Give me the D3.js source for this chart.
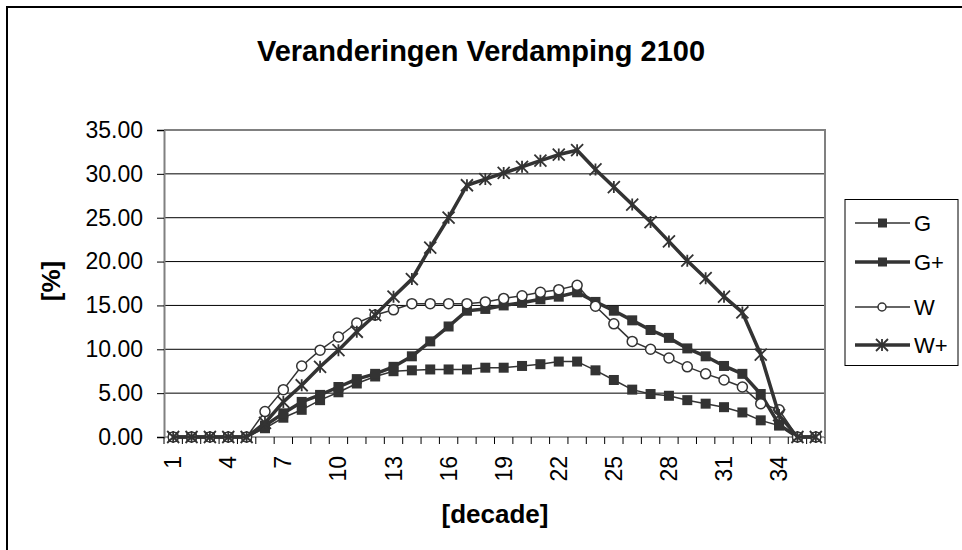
<!DOCTYPE html>
<html><head><meta charset="utf-8">
<script src="https://cdn.jsdelivr.net/npm/d3@7/dist/d3.min.js"></script>
<style>body{margin:0;background:#fff}svg{display:block}</style>
</head><body>
<svg id="chart" width="962" height="550"></svg>
<script>
const categories = [1,2,3,4,5,6,7,8,9,10,11,12,13,14,15,16,17,18,19,20,21,22,23,24,25,26,27,28,29,30,31,32,33,34,35,36];
const tickLabels = [1,4,7,10,13,16,19,22,25,28,31,34];
const yTicks = [0,5,10,15,20,25,30,35];
const seriesNames = ["G","G+","W","W+"];
const G  = [0,0,0,0,0,1.0,2.2,3.1,4.2,5.1,6.1,6.9,7.5,7.6,7.7,7.7,7.7,7.9,7.9,8.1,8.3,8.6,8.6,7.6,6.5,5.4,4.9,4.7,4.2,3.8,3.4,2.8,1.9,1.3,0,0];
const Gp = [0,0,0,0,0,1.3,2.7,4.0,4.8,5.7,6.6,7.2,8.0,9.2,10.9,12.6,14.4,14.6,15.0,15.3,15.7,16.0,16.5,15.4,14.4,13.3,12.2,11.3,10.1,9.2,8.1,7.2,4.9,1.4,0,0];
const W  = [0,0,0,0,0,2.9,5.4,8.1,9.9,11.4,13.0,13.9,14.5,15.2,15.2,15.2,15.2,15.4,15.8,16.1,16.5,16.8,17.3,14.9,12.9,10.9,10.0,9.0,8.0,7.2,6.5,5.7,3.8,3.1,0,0];
const Wp = [0,0,0,0,0,1.6,4.0,5.9,8.0,9.9,12.0,13.9,16.0,18.0,21.6,25.0,28.7,29.4,30.1,30.8,31.5,32.2,32.7,30.5,28.5,26.5,24.5,22.3,20.1,18.1,16.0,14.2,9.4,2.5,0,0];

const svg = d3.select("#chart");
const font = "'Liberation Sans', Arial, sans-serif";
const ink = "#333333";

// outer chart border (extends beyond right/bottom edges)
svg.append("rect").attr("x",7).attr("y",7).attr("width",1100).attr("height",1100)
  .attr("fill","none").attr("stroke","#000").attr("stroke-width",2);

const L = 164, R = 825, T = 130, B = 437;
const x = d3.scaleBand().domain(categories).range([L,R]).padding(0);
const y = d3.scaleLinear().domain([0,35]).range([B,T]);

// gridlines
svg.append("g").selectAll("line").data(yTicks.filter(v=>v>0 && v<35)).join("line")
  .attr("x1",L).attr("x2",R).attr("y1",d=>y(d)).attr("y2",d=>y(d))
  .attr("stroke","#000").attr("stroke-width",1);

// plot border top/right
svg.append("path").attr("d",`M${L},${T}H${R}V${B}`).attr("fill","none")
  .attr("stroke","#808080").attr("stroke-width",2);

// y axis
const yAxis = d3.axisLeft(y).tickValues(yTicks).tickSize(7).tickPadding(14)
  .tickFormat(d3.format(".2f"));
const gy = svg.append("g").attr("transform",`translate(${L},0)`).call(yAxis);
gy.select(".domain").attr("stroke","#808080").attr("stroke-width",2);
gy.selectAll(".tick line").attr("stroke","#000");
gy.selectAll(".tick text").attr("font-family",font).attr("font-size",23).attr("fill","#000");

// x axis (ticks between categories)
const gx = svg.append("g").attr("transform",`translate(0,${B})`);
gx.append("line").attr("x1",L).attr("x2",R).attr("stroke","#808080").attr("stroke-width",1.5);
gx.selectAll("line.tk").data(categories.concat([null])).join("line").attr("class","tk")
  .attr("x1",(d,i)=> i<categories.length ? x(d) : R).attr("x2",(d,i)=> i<categories.length ? x(d) : R)
  .attr("y1",0).attr("y2",7).attr("stroke","#000");
gx.selectAll("text").data(tickLabels).join("text")
  .attr("transform",d=>`translate(${x(d)+x.bandwidth()/2},19) rotate(-90)`)
  .attr("text-anchor","end").attr("dy","0.35em")
  .attr("font-family",font).attr("font-size",23).text(d=>d);

// titles
svg.append("text").attr("x",481).attr("y",61).attr("text-anchor","middle")
  .attr("font-family",font).attr("font-weight","bold").attr("font-size",29)
  .text("Veranderingen Verdamping 2100");
svg.append("text").attr("x",495).attr("y",523).attr("text-anchor","middle")
  .attr("font-family",font).attr("font-weight","bold").attr("font-size",26)
  .text("[decade]");
svg.append("text").attr("transform","translate(51,281) rotate(-90)").attr("text-anchor","middle")
  .attr("dy","0.35em").attr("font-family",font).attr("font-weight","bold").attr("font-size",26)
  .text("[%]");

const series = [
  {name:"G", values:G, width:1.5, marker:"square"},
  {name:"G+", values:Gp, width:3.5, marker:"square"},
  {name:"W", values:W, width:1.5, marker:"circle"},
  {name:"W+", values:Wp, width:3.5, marker:"star"}
];

function drawMarker(g, type, cx, cy){
  if(type==="square"){
    g.append("rect").attr("x",cx-5).attr("y",cy-5).attr("width",10).attr("height",10).attr("fill",ink);
  } else if(type==="circle"){
    g.append("circle").attr("cx",cx).attr("cy",cy).attr("r",5).attr("fill","#fff").attr("stroke",ink).attr("stroke-width",1.5);
  } else {
    const s=6;
    g.append("path").attr("d",`M${cx-s},${cy-s}L${cx+s},${cy+s}M${cx-s},${cy+s}L${cx+s},${cy-s}M${cx},${cy-s}V${cy+s}`)
      .attr("stroke",ink).attr("stroke-width",1.8).attr("fill","none");
  }
}

const cx = d => x(d)+x.bandwidth()/2;
series.forEach(s=>{
  const g = svg.append("g");
  const line = d3.line().x((v,i)=>cx(categories[i])).y(v=>y(v));
  g.append("path").attr("d",line(s.values)).attr("fill","none").attr("stroke",ink)
    .attr("stroke-width",s.width).attr("stroke-linejoin","round");
  s.values.forEach((v,i)=>drawMarker(g,s.marker,cx(categories[i]),y(v)));
});

// legend
svg.append("rect").attr("x",845).attr("y",199.5).attr("width",113).attr("height",166)
  .attr("fill","#fff").attr("stroke","#000").attr("stroke-width",1);
const legY = [223,262,307,345];
series.forEach((s,i)=>{
  const g = svg.append("g");
  g.append("line").attr("x1",855).attr("x2",910).attr("y1",legY[i]).attr("y2",legY[i])
    .attr("stroke",ink).attr("stroke-width",s.width);
  if(s.marker==="circle"){
    g.append("circle").attr("cx",882).attr("cy",legY[i]).attr("r",4).attr("fill","#fff").attr("stroke",ink).attr("stroke-width",1.5);
  } else if(s.marker==="square"){
    g.append("rect").attr("x",878).attr("y",legY[i]-4.5).attr("width",9).attr("height",9).attr("fill",ink);
  } else drawMarker(g,"star",882,legY[i]);
  g.append("text").attr("x",914).attr("y",legY[i]).attr("dy","0.35em")
    .attr("font-family",font).attr("font-size",22).text(s.name);
});
</script>
</body></html>
